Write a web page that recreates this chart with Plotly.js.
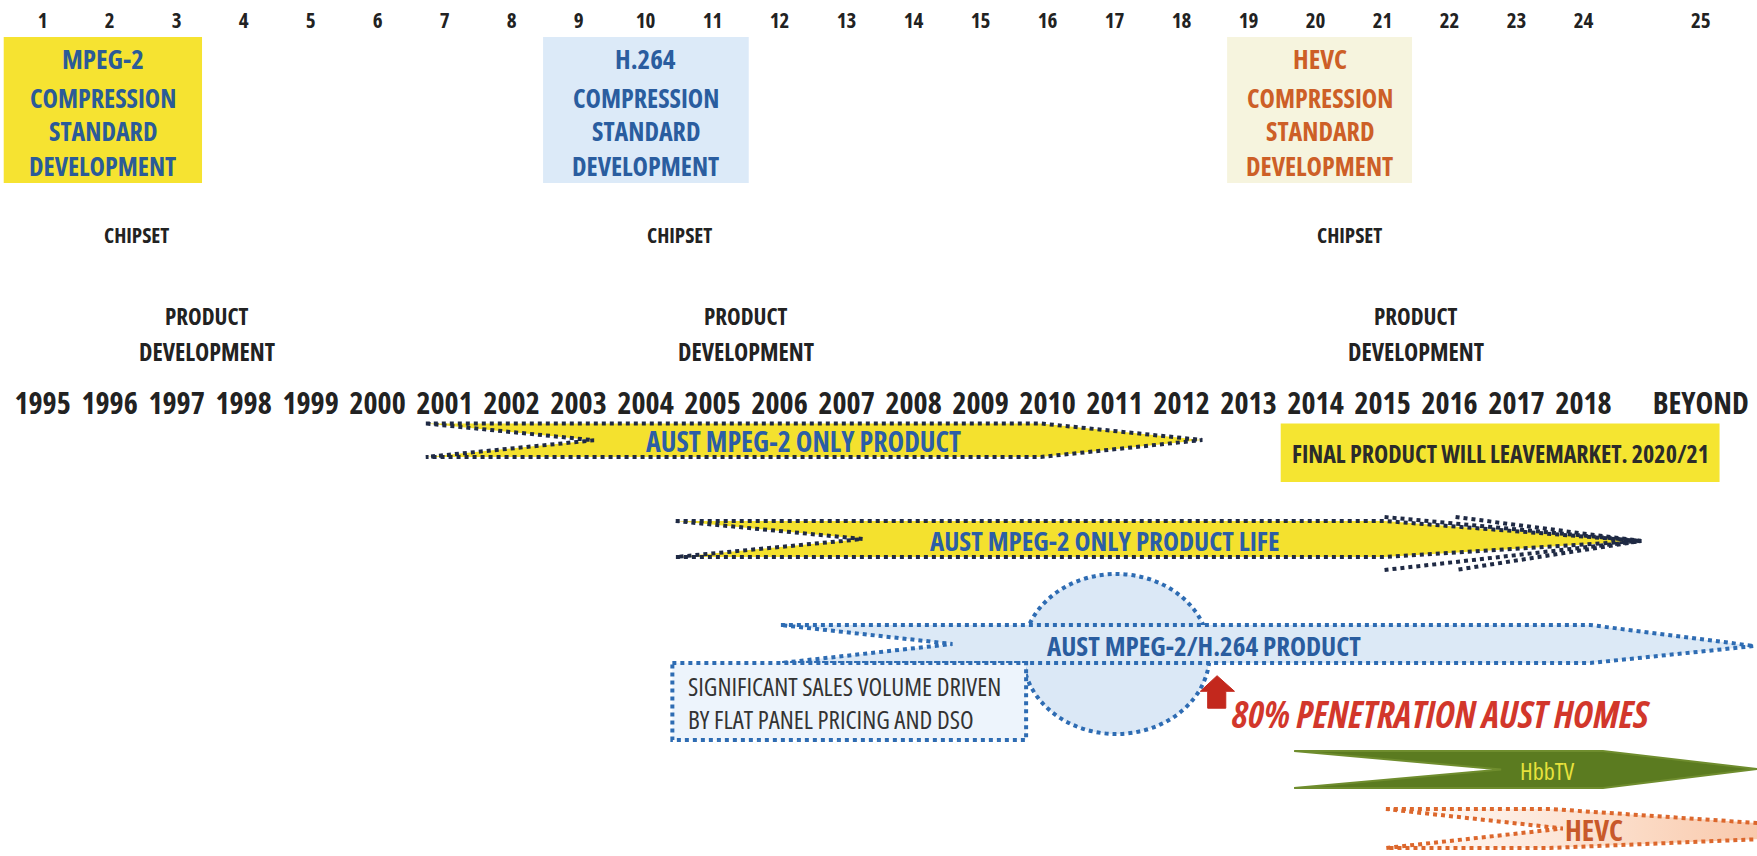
<!DOCTYPE html>
<html><head><meta charset="utf-8">
<script src="https://cdn.plot.ly/plotly-3.0.1.min.js"></script>
<style>html,body{margin:0;padding:0;background:#fff;}#chart{width:1757px;height:856px;}
svg text, text{font-stretch:75%;}</style>
</head><body><div id="chart"></div>
<script>
// ---------------- DATA ----------------
const indexLabels = ['1','2','3','4','5','6','7','8','9','10','11','12','13','14','15','16','17','18','19','20','21','22','23','24','25'];
const yearLabels = ['1995','1996','1997','1998','1999','2000','2001','2002','2003','2004','2005','2006','2007','2008','2009','2010','2011','2012','2013','2014','2015','2016','2017','2018','BEYOND'];
const yearValues = [1995,1996,1997,1998,1999,2000,2001,2002,2003,2004,2005,2006,2007,2008,2009,2010,2011,2012,2013,2014,2015,2016,2017,2018,2019.75];

const standardNames = ['MPEG-2','H.264','HEVC'];
const standardStart = [1994.42, 2002.47, 2012.68];
const standardEnd   = [1997.38, 2005.54, 2015.44];
const chipsetYear   = [1996.4, 2004.5, 2014.5];
const productDevYear= [1997.45, 2005.5, 2015.5];

const arrowNames = ['AUST MPEG-2 ONLY PRODUCT','AUST MPEG-2 ONLY PRODUCT LIFE','AUST MPEG-2/H.264 PRODUCT','HbbTV','HEVC'];
const arrowStart = [2000.72, 2004.45, 2006.02, 2013.68, 2015.05];
const arrowEnd   = [2012.31, 2018.86, 2020.55, 2020.59, 2022.8];
const arrowLabelAt = [2006.35, 2010.85, 2012.34, 2017.46, 2018.15];

const finalProductText = 'FINAL PRODUCT WILL LEAVEMARKET. 2020/21';
const finalProductSpan = [2013.48, 2020.03];
const salesText = ['SIGNIFICANT SALES VOLUME DRIVEN','BY FLAT PANEL PRICING AND DSO'];
const salesSpan = [2004.40, 2009.68];
const penetrationText = '80% PENETRATION AUST HOMES';
const penetrationYear = 2012.53;
const penetrationCircle = [2009.63, 2012.42];

// ---------------- LAYOUT / STYLE ----------------
const FONT = '"Open Sans", "DejaVu Sans Condensed", sans-serif';
const W = 1757, H = 856;
const X0 = 1994.3645, X1 = 2020.589;

const lanes = [
  {top:423.5, bot:457, tipY:440, notch:2.51, taper:2.41, fill:'#f4e12e', line:'#1f2a44', text:'#2c5ea6', size:28},
  {top:521, bot:557, tipY:541, notch:2.79, taper:3.83, fill:'#f4e12e', line:'#1f2a44', text:'#2c5ea6', size:27},
  {top:625, bot:663, tipY:646, notch:2.56, taper:2.45, fill:'#dce9f6', line:'#2e6cb3', text:'#2a5d9f', size:27},
  {top:751, bot:788, tipY:769, notch:3.09, taper:2.3, fill:'#5b7b20', line:'#6f8d2e', text:'#e8e23c', size:24},
  {top:809, bot:848, tipY:833, notch:2.64, taper:5.3, fill:'#f7c3a4', line:'#dc672c', text:'#c8592a', size:29}
];

function arrowPath(i){
  const L = lanes[i], x0 = arrowStart[i], xt = arrowEnd[i];
  const xn = x0 + L.notch, xb = xt - L.taper, ym = (L.top+L.bot)/2;
  return {x:[x0, xb, xt, xb, x0, xn, x0], y:[L.top, L.top, L.tipY, L.bot, L.bot, ym, L.top]};
}

const traces = [];
function addArrow(i, extra){
  const p = arrowPath(i), L = lanes[i];
  const t = {x:p.x, y:p.y, mode:'lines', fill:'toself', fillcolor:L.fill,
    line:{color:L.line, width:4, dash:'dot'}, hoverinfo:'skip', xaxis:'x', yaxis:'y'};
  Object.assign(t, extra||{});
  traces.push(t);
}
addArrow(0);
addArrow(1);
[arrowEnd[1]-3.83, arrowEnd[1]-2.77].forEach(xs => {
  traces.push({x:[xs, arrowEnd[1], xs], y:[517, lanes[1].tipY, 570], mode:'lines',
    line:{color:'#1f2a44', width:4, dash:'dot'}, hoverinfo:'skip'});
});
addArrow(2);
traces.push({x:[salesSpan[0], salesSpan[1], salesSpan[1], salesSpan[0], salesSpan[0]],
  y:[663, 663, 740, 740, 663], mode:'lines', fill:'toself', fillcolor:'#edf4fc',
  line:{color:'#2e6cb3', width:4, dash:'dot'}, hoverinfo:'skip'});
const pa = penetrationYear;
traces.push({x:[pa, pa+0.26, pa+0.13, pa+0.13, pa-0.14, pa-0.14, pa-0.25, pa],
  y:[675.7, 691.3, 691.3, 708.2, 708.2, 691.3, 691.3, 675.7], mode:'lines', fill:'toself',
  fillcolor:'#c3281d', line:{color:'#c3281d', width:1}, hoverinfo:'skip'});
addArrow(3, {line:{color:'#6f8d2e', width:2}});
addArrow(4, {fillgradient:{type:'horizontal', colorscale:[[0,'#ffffff'],[0.5,'#fbd9c3'],[1,'#f5b48f']]}});

const boxFills = ['#f6e331','#dceaf8','#f6f4de'];
const shapes = [];
standardNames.forEach((n,i)=>{
  shapes.push({type:'rect', xref:'x', yref:'y', x0:standardStart[i], x1:standardEnd[i], y0:37, y1:183,
    fillcolor:boxFills[i], line:{width:0}, layer:'below'});
});
shapes.push({type:'rect', xref:'x', yref:'y', x0:finalProductSpan[0], x1:finalProductSpan[1], y0:423.5, y1:482,
  fillcolor:'#f5e531', line:{width:0}, layer:'below'});
shapes.push({type:'circle', xref:'x', yref:'y', x0:penetrationCircle[0], x1:penetrationCircle[1], y0:574, y1:734,
  fillcolor:'#dbe8f6', line:{color:'#2e6cb3', width:4, dash:'dot'}, layer:'below'});

const ann = [];
function A(x, y, text, size, color, extra){
  ann.push(Object.assign({x:x, y:y, xref:'x', yref:'y', text:text, showarrow:false,
    xanchor:'center', yanchor:'middle', font:{family:FONT, size:size, color:color}}, extra||{}));
}
const stdText = ['#2b5b98','#2a5d9f','#cd5f27'];
standardNames.forEach((n,i)=>{
  const cx = (standardStart[i]+standardEnd[i])/2;
  A(cx, 58, '<b>'+n+'</b>', 27, stdText[i]);
  A(cx, 98, '<b>COMPRESSION</b>', 26, stdText[i]);
  A(cx, 131, '<b>STANDARD</b>', 26, stdText[i]);
  A(cx, 166, '<b>DEVELOPMENT</b>', 26, stdText[i]);
  A(chipsetYear[i], 235, '<b>CHIPSET</b>', 21, '#222');
  A(productDevYear[i], 316, '<b>PRODUCT</b>', 23, '#222');
  A(productDevYear[i], 351, '<b>DEVELOPMENT</b>', 24, '#222');
});
arrowNames.forEach((n,i)=>{
  const L = lanes[i];
  const bold = i===3 ? n : '<b>'+n+'</b>';
  A(arrowLabelAt[i], (L.top+L.bot)/2 + 1, bold, L.size, L.text);
});
A((finalProductSpan[0]+finalProductSpan[1])/2, 453, '<b>'+finalProductText+'</b>', 24, '#2b2b2b');
A(salesSpan[0]+0.2, 702, salesText.join('<br>'), 25, '#333', {xanchor:'left', align:'left'});
A(pa+0.2, 713, '<b><i>'+penetrationText+'</i></b>', 37, '#d2372b', {xanchor:'left'});

const layout = {
  width:W, height:H, margin:{l:0,r:0,t:0,b:0}, paper_bgcolor:'#ffffff', plot_bgcolor:'#ffffff',
  showlegend:false, hovermode:false,
  xaxis:{range:[X0,X1], anchor:'free', position:0.9932, side:'bottom', showgrid:false, zeroline:false,
    showline:false, ticks:'', tickangle:0, ticklabeloverflow:'allow', tickmode:'array', tickvals:yearValues, ticktext:indexLabels,
    tickfont:{family:FONT, size:21, color:'#222', weight:'bold'}, fixedrange:true},
  xaxis2:{range:[X0,X1], overlaying:'x', anchor:'free', position:0.5526, side:'bottom', showgrid:false,
    zeroline:false, showline:false, ticks:'', tickangle:0, ticklabeloverflow:'allow', tickmode:'array', tickvals:yearValues, ticktext:yearLabels,
    tickfont:{family:FONT, size:30, color:'#222', weight:'bold'}, fixedrange:true},
  yaxis:{range:[H,0], visible:false, showgrid:false, zeroline:false, fixedrange:true, domain:[0,1]},
  shapes:shapes, annotations:ann
};
traces.push({x:[X0], y:[-100], xaxis:'x2', yaxis:'y', mode:'markers', marker:{opacity:0}, hoverinfo:'skip'});

Plotly.newPlot('chart', traces, layout, {staticPlot:true, displayModeBar:false});
</script>
</body></html>
